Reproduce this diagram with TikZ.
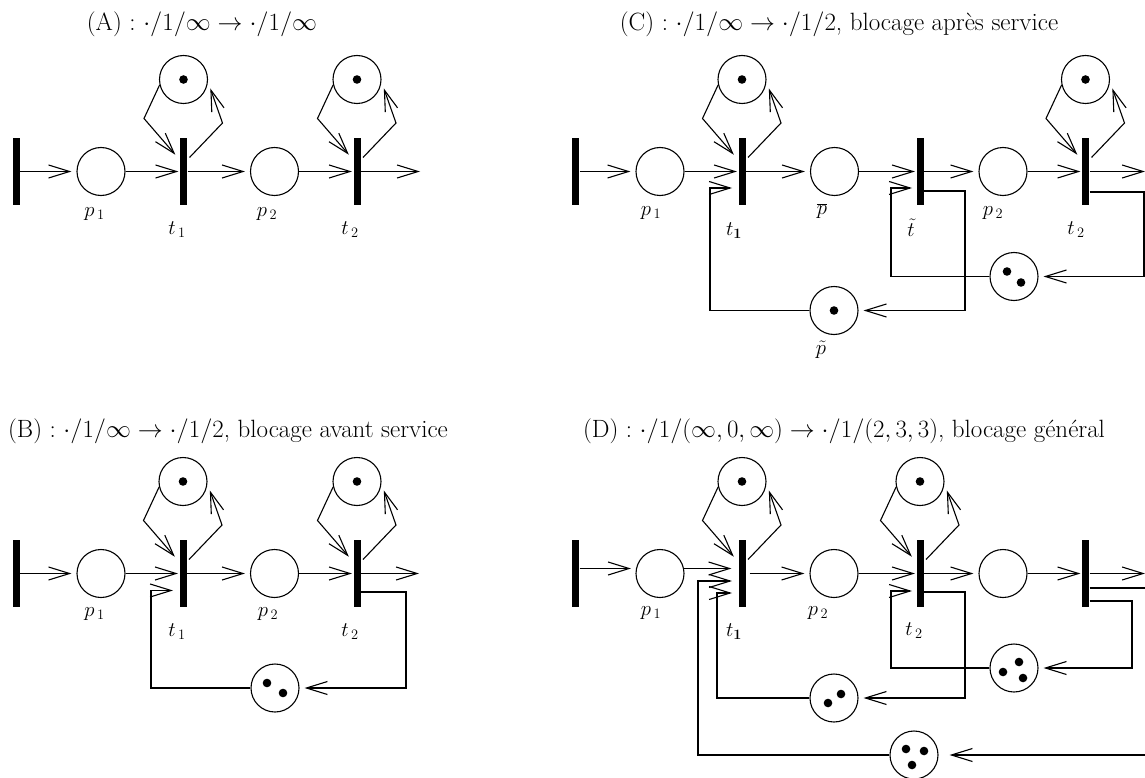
\documentclass[tikz,border=0pt]{standalone}
\usetikzlibrary{arrows.meta,calc}
\begin{document}
\begin{tikzpicture}[x=1pt,y=-1pt,
  line width=1.1pt,
  place/.style={circle,draw,line width=1.1pt,minimum size=48pt,inner sep=0pt},
  trans/.style={rectangle,fill=black,minimum width=7pt,minimum height=67pt,inner sep=0pt},
  arc/.style={-{Straight Barb[length=21pt,width=13pt]},shorten >=1pt},
  arcp/.style={arc,shorten >=5pt},
  lab/.style={font=\fontsize{21}{24}\selectfont,inner sep=0pt},
  ttl/.style={font=\fontsize{25}{30}\selectfont,inner sep=0pt}
]
\useasboundingbox (0,0) rectangle (1145,778);
\clip (0,0) rectangle (1145,778);

% token(s) inside a place
\newcommand\tokenat[2]{\fill ($(#1)+(#2)$) circle (4.3pt);}
% self-loop place above a transition: #1 transition, #2 place
\newcommand\selfloop[2]{%
  \draw[arc] (#2.193) -- ($(#1)+(-39.5,-53)$) -- ($(#1)+(-7.5,-16)$);
  \draw[arc] ($(#1)+(6,-14)$) -- ($(#1)+(39,-48.5)$) -- ($(#1)+(26.5,-84)$);}

% ---------------- (A)
\node[ttl] (ttlA) at (202,24) {(A) : $\cdot/1/\infty\rightarrow\cdot/1/\infty$};
\node[trans] (a0) at (16,171.5) {};
\node[place] (ap1) at (101,171.5) {};
\node[trans] (at1) at (183.5,171.5) {};
\node[place] (ap2) at (274.5,171.5) {};
\node[trans] (at2) at (357,171.5) {};
\coordinate (aout) at (421,171.5);
\node[place] (as1) at (183.5,79.5) {}; \tokenat{as1}{0,0}
\node[place] (as2) at (357,79.5) {};   \tokenat{as2}{0,0}
\draw[arcp] (a0) -- (ap1);
\draw[arc] (ap1) -- (at1);
\draw[arcp] (at1) -- (ap2);
\draw[arc] (ap2) -- (at2);
\draw[arc] (at2) -- (aout);
\selfloop{at1}{as1}
\selfloop{at2}{as2}
\node[lab] (lap1) at (94.5,214) {$p_{\,1}$};
\node[lab] (lat1) at (177,230) {$t_{\,1}$};
\node[lab] (lap2) at (267,214) {$p_{\,2}$};
\node[lab] (lat2) at (350,230) {$t_{\,2}$};

% ---------------- (B)
\node[ttl] (ttlB) at (228,431) {(B) : $\cdot/1/\infty\rightarrow\cdot/1/2$, blocage avant service};
\node[trans] (b0) at (16,573.5) {};
\node[place] (bp1) at (101,573.5) {};
\node[trans] (bt1) at (183,573.5) {};
\node[place] (bp2) at (274.5,573.5) {};
\node[trans] (bt2) at (357,573.5) {};
\coordinate (bout) at (420,573.5);
\node[place] (bs1) at (183,481.5) {}; \tokenat{bs1}{0,0}
\node[place] (bs2) at (357,481.5) {}; \tokenat{bs2}{0,0}
\node[place] (bq) at (275,688) {}; \tokenat{bq}{-8,-5} \tokenat{bq}{8,5}
\draw[arcp] (b0) -- (bp1);
\draw[arc] (bp1) -- (bt1);
\draw[arcp] (bt1) -- (bp2);
\draw[arc] (bp2) -- (bt2);
\draw[arc] (bt2) -- (bout);
\selfloop{bt1}{bs1}
\selfloop{bt2}{bs2}
\draw[arc] (bq) -| ($(bt1)+(-32,17)$) -- ($(bt1)+(-9,17)$);
\draw[arcp] ($(bt2.east)+(0,18.5)$) -| ($(bq)+(131,0)$) -- (bq);
\node[lab] (lbp1) at (94.5,614) {$p_{\,1}$};
\node[lab] (lbt1) at (177,632) {$t_{\,1}$};
\node[lab] (lbp2) at (268,614) {$p_{\,2}$};
\node[lab] (lbt2) at (350,632) {$t_{\,2}$};

% ---------------- (C)
\node[ttl] (ttlC) at (839,24) {(C) : $\cdot/1/\infty\rightarrow\cdot/1/2$, blocage apr\`es service};
\node[trans] (c0) at (575.5,171.5) {};
\node[place] (cp1) at (660,171.5) {};
\node[trans] (ct1) at (742,171.5) {};
\node[place] (cpb) at (834.5,171.5) {};
\node[trans] (ctt) at (920,171.5) {};
\node[place] (cp2) at (1003,171.5) {};
\node[trans] (ct2) at (1085.5,171.5) {};
\coordinate (cout) at (1146,171.5);
\node[place] (cs1) at (742,79.5) {};    \tokenat{cs1}{0,0}
\node[place] (cs2) at (1085.5,79.5) {}; \tokenat{cs2}{0,0}
\node[place] (cpt) at (834,310.5) {};   \tokenat{cpt}{0,0}
\node[place] (cq) at (1014,276.5) {};   \tokenat{cq}{-7,-5} \tokenat{cq}{7,6}
\draw[arcp] (c0) -- (cp1);
\draw[arc] (cp1) -- (ct1);
\draw[arcp] (ct1) -- (cpb);
\draw[arc] (cpb) -- (ctt);
\draw[arcp] (ctt) -- (cp2);
\draw[arc] (cp2) -- (ct2);
\draw[arc] (ct2) -- (cout);
\selfloop{ct1}{cs1}
\selfloop{ct2}{cs2}
\draw[arc] (cpt) -| ($(ct1)+(-32,16.5)$) -- ($(ct1)+(-9,16.5)$);
\draw[arcp] ($(ctt.east)+(0,19.5)$) -| ($(cpt)+(131,0)$) -- (cpt);
\draw[arc] (cq) -| ($(ctt)+(-29,16.5)$) -- ($(ctt)+(-7,16.5)$);
\draw[arcp] ($(ct2.east)+(0,20.5)$) -| ($(cq)+(130,0)$) -- (cq);
\node[lab] (lcp1) at (651,213) {$p_{\,1}$};
\node[lab] (lct1) at (734,231) {$t_{\mathbf{1}}$};
\node[lab] (lcpb) at (822,211) {$\overline{p}$};
\node[lab] (lctt) at (911,228) {$\tilde{t}$};
\node[lab] (lcp2) at (993,213) {$p_{\,2}$};
\node[lab] (lct2) at (1076,230) {$t_{\,2}$};
\node[lab] (lcpt) at (821,350) {$\tilde{p}$};

% ---------------- (D)
\node[ttl] (ttlD) at (844,431) {(D) : $\cdot/1/(\infty,0,\infty)\rightarrow\cdot/1/(2,3,3)$, blocage g\'en\'eral};
\node[trans] (d0) at (575.5,573.5) {};
\node[place] (dp1) at (660,573.5) {};
\node[trans] (dt1) at (742,573.5) {};
\node[place] (dp2) at (834,573.5) {};
\node[trans] (dt2) at (920,573.5) {};
\node[place] (dp3) at (1003,573.5) {};
\node[trans] (dt3) at (1085.5,573.5) {};
\coordinate (dout) at (1146,573.5);
\coordinate (dexit) at (1160,588);
\coordinate (dfar) at (1160,755);
\node[place] (ds1) at (742,481.5) {}; \tokenat{ds1}{0,0}
\node[place] (ds2) at (920,481.5) {}; \tokenat{ds2}{0,0}
\node[place] (dq2) at (834,698) {};   \tokenat{dq2}{-6,5} \tokenat{dq2}{7,-4}
\node[place] (dqa) at (1014,668) {};  \tokenat{dqa}{5,-6} \tokenat{dqa}{-11,4} \tokenat{dqa}{9,10}
\node[place] (dqb) at (914,755) {};   \tokenat{dqb}{-8,-6} \tokenat{dqb}{10,-4} \tokenat{dqb}{-2,10}
\draw[arcp] ($(d0.east)+(0,-5)$) -- ($(dp1.west)+(0.5,-5)$);
\draw[arc] ($(dp1.east)+(-0.5,-5)$) -- ($(dt1.west)+(-5.5,-5)$);
\draw[arc] (dqb) -| ($(dt1)+(-44,7.5)$) -- ($(dt1)+(-9,7.5)$);
\draw[arc] (dq2) -| ($(dt1)+(-25,19.5)$) -- ($(dt1)+(-9,19.5)$);
\draw[arcp,shorten <=3.5pt] (dt1) -- (dp2);
\draw[arc] (dp2) -- (dt2);
\draw[arc] (dqa) -| ($(dt2)+(-29,17.5)$) -- ($(dt2)+(-7,17.5)$);
\draw[arcp] ($(dt2.east)+(0,18.5)$) -| ($(dq2)+(131,0)$) -- (dq2);
\draw[arcp] (dt2) -- (dp3);
\draw[arc] (dp3) -- (dt3);
\draw[arc] (dt3) -- (dout);
\draw (dt3.east |- dexit) -- (dexit);
\draw[arcp] ($(dt3.east)+(0,27.5)$) -| ($(dqa)+(118,0)$) -- (dqa);
\draw[arc,shorten >=11pt] (dfar) -- (dqb);
\selfloop{dt1}{ds1}
\selfloop{dt2}{ds2}
\node[lab] (ldp1) at (651,613) {$p_{\,1}$};
\node[lab] (ldt1) at (734,632) {$t_{\mathbf{1}}$};
\node[lab] (ldp2) at (818,613) {$p_{\,2}$};
\node[lab] (ldt2) at (914,631) {$t_{\,2}$};
\end{tikzpicture}
\end{document}
